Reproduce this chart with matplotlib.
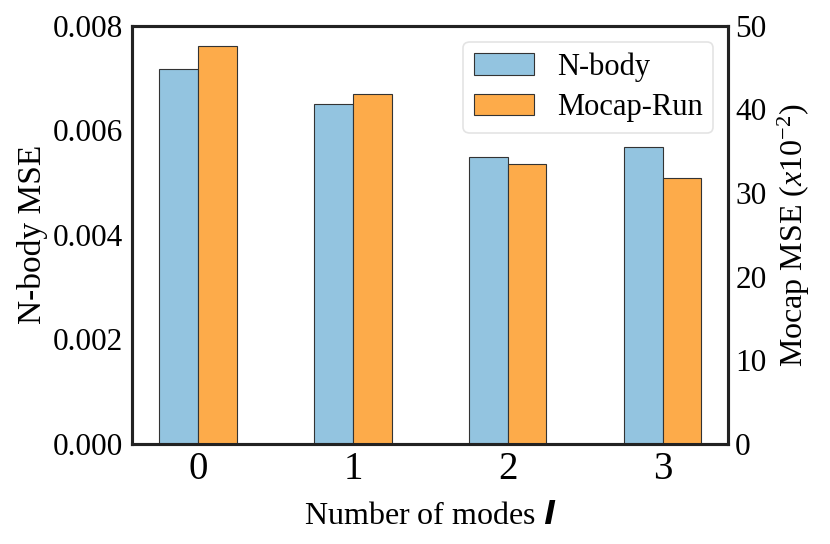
import matplotlib
matplotlib.use("Agg")
import matplotlib.pyplot as plt
import numpy as np

modes = [0, 1, 2, 3]
nbody_mse = [0.00718, 0.00650, 0.00549, 0.00568]
mocap_mse = [47.6, 41.8, 33.4, 31.8]
left_ticks = [0.000, 0.002, 0.004, 0.006, 0.008]
right_ticks = [0, 10, 20, 30, 40, 50]

plt.rcParams['font.family'] = ['Liberation Serif', 'DejaVu Serif']
plt.rcParams['mathtext.fontset'] = 'custom'
plt.rcParams['mathtext.rm'] = 'Liberation Serif'
plt.rcParams['mathtext.it'] = 'Liberation Serif:italic'
plt.rcParams['mathtext.sf'] = 'DejaVu Sans:italic:bold'
plt.rcParams['mathtext.bf'] = 'Liberation Serif:bold'

blue = '#93c4e0'
orange = '#fdab4a'
edge = '#333333'

fig = plt.figure(figsize=(8.3, 5.44), dpi=100)
ax = fig.add_axes([132.3/830, 1-443.7/544, (728.3-132.3)/830, (443.7-25.7)/544])
ax2 = ax.twinx()

x = np.arange(len(modes))
w = 0.25
b1 = ax.bar(x - w/2, nbody_mse, w, color=blue, edgecolor=edge, linewidth=0.8, label='N-body')
b2 = ax2.bar(x + w/2, mocap_mse, w, color=orange, edgecolor=edge, linewidth=0.8, label='Mocap-Run')

ax.set_xlim(-0.425, 3.425)
ax.set_ylim(0, 0.008)
ax2.set_ylim(0, 50)
ax.set_xticks(x)
ax.set_xticklabels([str(m) for m in modes])
ax.set_yticks(left_ticks)
ax.set_yticklabels([f'{t:.3f}' for t in left_ticks])
ax2.set_yticks(right_ticks)

ax.tick_params(axis='x', length=0, labelsize=28, pad=5)
ax.tick_params(axis='y', length=0, labelsize=22.5, pad=7)
ax2.tick_params(axis='y', length=0, labelsize=22.5, pad=5)

for a in (ax, ax2):
    for s in a.spines.values():
        s.set_linewidth(2.2)
        s.set_color('#222222')

ax.set_xlabel(r'Number of modes $\mathsf{l}$', fontsize=23, labelpad=10)
ax.set_ylabel('N-body MSE', fontsize=24, labelpad=3)
ax2.set_ylabel(r'Mocap MSE ($x$10$^{-2}$)', fontsize=23, labelpad=7)

leg = ax2.legend([b1, b2], ['N-body', 'Mocap-Run'], loc='upper right', fontsize=22,
                 frameon=True, fancybox=True, handlelength=1.96, handleheight=0.7,
                 borderpad=0.35, labelspacing=0.38, handletextpad=0.75,
                 borderaxespad=0, bbox_to_anchor=(0.975, 0.962))
leg.get_frame().set_edgecolor('#dddddd')
leg.get_frame().set_linewidth(1.2)

fig.savefig('out.png', dpi=100)
